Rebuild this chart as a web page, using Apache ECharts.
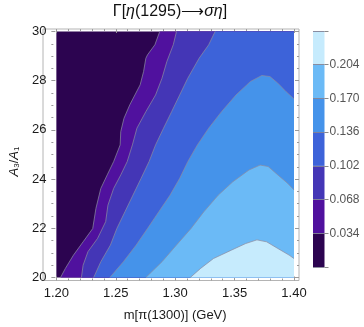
<!DOCTYPE html>
<html><head><meta charset="utf-8">
<script src="https://cdn.jsdelivr.net/npm/echarts@6/dist/echarts.min.js"></script>
<style>html,body{margin:0;padding:0;background:#fff}#c{width:364px;height:327px}</style>
</head><body><div id="c"></div>
<script>
// ---- data ----
const xRange = [1.20, 1.40];
const yRange = [20, 30];
const xTickLabels = ['1.20','1.25','1.30','1.35','1.40'];
const yTickLabels = ['20','22','24','26','28','30'];
const levels = [0.034, 0.068, 0.102, 0.136, 0.170, 0.204];
const barEdges = [0, 0.034, 0.068, 0.102, 0.136, 0.170, 0.204, 0.238];
const colors = ['#2c0450', '#50119e', '#4436b6', '#3d63d9', '#4593ea', '#6bbaf6', '#c6ebfd'];

// contour curves [x, y]
const c034 = [[1.2870,30],[1.2829,29.46],[1.2767,29.05],[1.2753,28.91],[1.2734,28.37],[1.2705,27.83],[1.2618,27.02],[1.2569,26.47],[1.2542,25.93],[1.2537,25.39],[1.2482,24.71],[1.2428,24.17],[1.2374,23.62],[1.2333,22.81],[1.2306,21.99],[1.2225,21.45],[1.2144,20.91],[1.2076,20.37],[1.2035,20]];
const c068 = [[1.3011,30],[1.2984,29.46],[1.2930,28.78],[1.2889,28.10],[1.2835,27.42],[1.2753,26.74],[1.2678,26.07],[1.2640,25.39],[1.2596,24.71],[1.2542,24.17],[1.2482,23.62],[1.2434,22.94],[1.2415,22.27],[1.2347,21.59],[1.2266,21.05],[1.2225,20.50],[1.2211,20]];
const c102 = [[1.3336,30],[1.3282,29.46],[1.3201,28.91],[1.3106,28.10],[1.3038,27.42],[1.2970,26.74],[1.2902,26.07],[1.2835,25.39],[1.2780,24.71],[1.2713,24.03],[1.2645,23.35],[1.2577,22.67],[1.2509,21.99],[1.2455,21.32],[1.2374,20.64],[1.2314,20]];
const c136 = [[1.2450,20],[1.2564,20.64],[1.2672,21.32],[1.2767,21.99],[1.2862,22.67],[1.2957,23.35],[1.3038,24.03],[1.3106,24.71],[1.3187,25.39],[1.3282,26.07],[1.3390,26.74],[1.3512,27.42],[1.3634,27.97],[1.3729,28.21],[1.3797,28.17],[1.3864,27.90],[1.3932,27.56],[1.40,27.26]];
const c170 = [[1.2753,20],[1.2889,20.64],[1.3011,21.32],[1.3133,21.99],[1.3241,22.67],[1.3363,23.35],[1.3485,23.89],[1.3621,24.37],[1.3715,24.57],[1.3783,24.51],[1.3864,24.17],[1.3946,23.83],[1.40,23.56]];
const c204 = [[1.3127,20],[1.3214,20.37],[1.3322,20.77],[1.3472,21.11],[1.3593,21.38],[1.3688,21.53],[1.3770,21.45],[1.3864,21.18],[1.3959,20.91],[1.40,20.77]];
const contours = [c034, c068, c102, c136, c170, c204];

// ---- layout ----
const G = {left: 48, top: 31.5, width: 246, height: 246};
const PAD = {l: 5, r: 5, t: 2.5, b: 3};
const FONT = '"Liberation Sans", Arial, sans-serif';

// regions above each level: curve + right-edge corners
const regions = contours.map(c => {
  const last = c[c.length - 1];
  if (last[1] === yRange[0]) return c.concat([[xRange[1], yRange[0]], [xRange[1], yRange[1]]]);
  return c.concat([[xRange[1], yRange[0]]]);
});

const chart = echarts.init(document.getElementById('c'), null, {renderer: 'canvas'});
const tickStyle = {color: '#9a9a9a', width: 1};
const series = [];
series.push({
  type: 'custom', xAxisIndex: 0, yAxisIndex: 0, z: 2, silent: true,
  data: regions.map((r, i) => [i]),
  renderItem: (params, api) => {
    const i = params.dataIndex;
    return {type: 'polygon', shape: {points: regions[i].map(p => api.coord(p))},
            style: {fill: colors[i + 1], stroke: null}};
  }
});
contours.forEach(c => series.push({
  type: 'line', xAxisIndex: 0, yAxisIndex: 0, z: 3, silent: true,
  data: c, showSymbol: false, symbol: 'none',
  lineStyle: {color: 'rgba(140,140,160,0.9)', width: 0.8}
}));
// colorbar segments
colors.forEach((col, i) => series.push({
  type: 'bar', xAxisIndex: 2, yAxisIndex: 2, stack: 'cb', barWidth: '100%', silent: true,
  data: [barEdges[i + 1] - barEdges[i]], itemStyle: {color: col}
}));

const axisCommon = {
  axisLine: {show: false},
  axisTick: {show: true, inside: true, length: 4, lineStyle: tickStyle},
  minorTick: {show: true, length: 2, lineStyle: tickStyle},
  splitLine: {show: false}, minorSplitLine: {show: false}
};

chart.setOption({
  animation: false,
  title: {
    text: '{n|Γ[}{i|η}{n|(1295)⟶}{i|ση}{n|]}',
    left: G.left + G.width / 2 - 1, textAlign: 'center', top: 4, padding: 0,
    textStyle: {fontWeight: 'normal', rich: {
      n: {fontSize: 16, fontFamily: FONT, fontWeight: 'normal', color: '#111'},
      i: {fontSize: 16, fontFamily: FONT, fontWeight: 'normal', fontStyle: 'italic', color: '#111'}
    }}
  },
  graphic: [{
    type: 'rect', silent: true, z: 0,
    shape: {x: G.left - PAD.l, y: G.top - PAD.t, width: G.width + PAD.l + PAD.r, height: G.height + PAD.t + PAD.b},
    style: {fill: null, stroke: '#b4b4b4', lineWidth: 1}
  }],
  grid: [
    {left: G.left, top: G.top, width: G.width, height: G.height, show: true, backgroundColor: colors[0], borderWidth: 0},
    {left: 313, top: 31, width: 11.5, height: 236, show: false}
  ],
  xAxis: [
    Object.assign({}, axisCommon, {
      type: 'value', gridIndex: 0, min: xRange[0], max: xRange[1], interval: 0.05, position: 'bottom', offset: PAD.b,
      minorTick: {show: true, splitNumber: 5, length: 2, lineStyle: tickStyle},
      axisLabel: {margin: 6, fontSize: 13, fontFamily: FONT, color: '#1a1a1a',
        formatter: v => xTickLabels.find(t => Math.abs(parseFloat(t) - v) < 1e-6) || ''},
      name: 'm[π(1300)] (GeV)', nameLocation: 'middle', nameGap: 28,
      nameTextStyle: {fontSize: 13, fontFamily: FONT, color: '#1a1a1a'}
    }),
    Object.assign({}, axisCommon, {
      type: 'value', gridIndex: 0, min: xRange[0], max: xRange[1], interval: 0.05, position: 'top', offset: PAD.t,
      minorTick: {show: true, splitNumber: 5, length: 2, lineStyle: tickStyle},
      axisLabel: {show: false}
    }),
    {type: 'category', gridIndex: 1, data: ['cb'], show: false}
  ],
  yAxis: [
    Object.assign({}, axisCommon, {
      type: 'value', gridIndex: 0, min: yRange[0], max: yRange[1], interval: 2, position: 'left', offset: PAD.l,
      minorTick: {show: true, splitNumber: 4, length: 2, lineStyle: tickStyle},
      axisLabel: {margin: 5, fontSize: 13, fontFamily: FONT, color: '#1a1a1a',
        formatter: v => yTickLabels.find(t => Math.abs(parseFloat(t) - v) < 1e-6) || ''},
      name: '{i|A}{s|3}{n|/}{i|A}{s|1}', nameLocation: 'middle', nameGap: 28, nameRotate: 90,
      nameTextStyle: {padding: [0, 14, 0, 0], rich: {
        i: {fontSize: 13, fontFamily: FONT, fontStyle: 'italic', color: '#1a1a1a'},
        n: {fontSize: 13, fontFamily: FONT, color: '#1a1a1a'},
        s: {fontSize: 8, fontFamily: FONT, color: '#1a1a1a', verticalAlign: 'bottom', padding: [4, 0, 0, 0]}
      }}
    }),
    Object.assign({}, axisCommon, {
      type: 'value', gridIndex: 0, min: yRange[0], max: yRange[1], interval: 2, position: 'right', offset: PAD.r,
      minorTick: {show: true, splitNumber: 4, length: 2, lineStyle: tickStyle},
      axisLabel: {show: false}
    }),
    {
      type: 'value', gridIndex: 1, min: barEdges[0], max: barEdges[barEdges.length - 1], interval: 0.034,
      position: 'right', z: 10,
      axisLine: {show: false},
      axisTick: {show: true, inside: false, length: 4, lineStyle: {color: '#8a8a8a', width: 1}},
      splitLine: {show: true, lineStyle: {color: 'rgba(130,130,150,0.9)', width: 1}},
      axisLabel: {margin: 5, fontSize: 12, fontFamily: FONT, color: '#555',
        formatter: v => {
          const k = levels.findIndex(l => Math.abs(l - v) < 1e-6);
          return k >= 0 ? levels[k].toFixed(3) : '';
        }}
    }
  ],
  series: series
});
</script>
</body></html>
